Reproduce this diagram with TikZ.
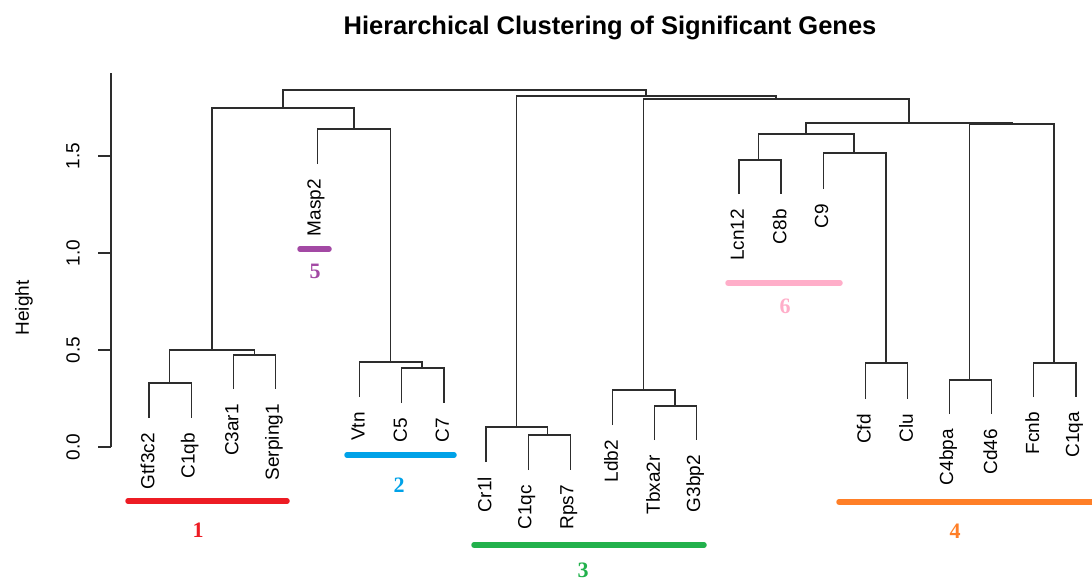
\documentclass[tikz,border=0pt]{standalone}
\usepackage{fontspec}
\setmainfont{Liberation Sans}
\newfontfamily\numfont{Liberation Serif}
\definecolor{cl1}{RGB}{237,28,36}
\definecolor{cl2}{RGB}{0,162,232}
\definecolor{cl3}{RGB}{34,177,76}
\definecolor{cl4}{RGB}{255,127,39}
\definecolor{cl5}{RGB}{163,73,164}
\definecolor{cl6}{RGB}{255,174,201}
\definecolor{treeline}{RGB}{45,45,45}
\tikzset{
  tree/.style={draw=treeline, line width=1.2pt},
  leaflab/.style={rotate=90, anchor=east, inner sep=0pt, font=\fontsize{19}{21}\selectfont},
  ticklab/.style={rotate=90, inner sep=0pt, font=\fontsize{19}{21}\selectfont},
  clbar/.style={line width=5.5pt, line cap=round},
  clnum/.style={inner sep=0pt, font=\numfont\bfseries\fontsize{22}{24}\selectfont}
}
\begin{document}
\begin{tikzpicture}[x=1pt,y=-1pt]
\useasboundingbox (0,0) rectangle (1092,581);

% title
\node[anchor=base, inner sep=0pt, font=\bfseries\fontsize{25.5}{28}\selectfont] (title) at (610,34) {Hierarchical Clustering of Significant Genes};

% height axis
\coordinate (ax0) at (111,447);
\coordinate (axtop) at (111,73);
\draw[tree] (ax0) -- (axtop);
\foreach \h/\t/\k in {0/0.0/a, 0.5/0.5/b, 1/1.0/c, 1.5/1.5/d} {
  \coordinate (tk\k) at (111,{447-194*\h});
  \coordinate (te\k) at (98,{447-194*\h});
  \draw[tree] (tk\k) -- (te\k);
  \node[ticklab] (tl\k) at (73,{447-194*\h}) {\t};
}
\node[ticklab] (ylab) at (24,308) {Height};

% leaves: name / position index / lower end of the hanging branch
\foreach \n/\i/\b in {Gtf3c2/0/418, C1qb/1/418, C3ar1/2/389, Serping1/3/389,
  Masp2/4/164, Vtn/5/397, C5/6/403, C7/7/403, Cr1l/8/462, C1qc/9/470, Rps7/10/470,
  Ldb2/11/425, Tbxa2r/12/440, G3bp2/13/440, Lcn12/14/194, C8b/15/194, C9/16/189,
  Cfd/17/399, Clu/18/399, C4bpa/19/414, Cd46/20/414, Fcnb/21/397, C1qa/22/397} {
  \coordinate (\n) at ({149+42.136*\i},\b);
  \node[leaflab] (lab-\n) at ({147.5+42.136*\i},\b+15) {\n};
}

% merge points
\coordinate (n1) at (169.6,383);
\coordinate (n2) at (254.3,355);
\coordinate (n3) at (212,350);
\coordinate (n4) at (422,368);
\coordinate (n5) at (390.5,362);
\coordinate (n6) at (354,129);
\coordinate (n7) at (283,108);
\coordinate (n8) at (547.5,435);
\coordinate (n9) at (516.5,427);
\coordinate (n10) at (675,406);
\coordinate (n11) at (643.5,390);
\coordinate (n12) at (758.5,160);
\coordinate (n13) at (886,363);
\coordinate (n14) at (854,153);
\coordinate (n15) at (806,134);
\coordinate (n16) at (969.5,380);
\coordinate (n17) at (1054,363);
\coordinate (n18) at (1012,124);
\coordinate (n19) at (909,123);
\coordinate (n20) at (776,99);
\coordinate (n21) at (646,96);
\coordinate (root) at (464.5,90);

% branches
\draw[tree] (Gtf3c2) |- (n1) -| (C1qb);
\draw[tree] (C3ar1) |- (n2) -| (Serping1);
\draw[tree] (n1) |- (n3) -| (n2);
\draw[tree] (C5) |- (n4) -| (C7);
\draw[tree] (Vtn) |- (n5) -| (n4);
\draw[tree] (Masp2) |- (n6) -| (n5);
\draw[tree] (n3) |- (n7) -| (n6);
\draw[tree] (C1qc) |- (n8) -| (Rps7);
\draw[tree] (Cr1l) |- (n9) -| (n8);
\draw[tree] (Tbxa2r) |- (n10) -| (G3bp2);
\draw[tree] (Ldb2) |- (n11) -| (n10);
\draw[tree] (Lcn12) |- (n12) -| (C8b);
\draw[tree] (Cfd) |- (n13) -| (Clu);
\draw[tree] (C9) |- (n14) -| (n13);
\draw[tree] (n12) |- (n15) -| (n14);
\draw[tree] (C4bpa) |- (n16) -| (Cd46);
\draw[tree] (Fcnb) |- (n17) -| (C1qa);
\draw[tree] (n16) |- (n18) -| (n17);
\draw[tree] (n15) |- (n19) -| (n18);
\draw[tree] (n11) |- (n20) -| (n19);
\draw[tree] (n9) |- (n21) -| (n20);
\draw[tree] (n7) |- (root) -| (n21);

% cluster markers
\coordinate (b1a) at (128,501);  \coordinate (b1b) at (287,501);
\coordinate (b2a) at (347,455);  \coordinate (b2b) at (454,455);
\coordinate (b3a) at (474,545);  \coordinate (b3b) at (704,545);
\coordinate (b4a) at (839,502);  \coordinate (b4b) at (1096,502);
\coordinate (b5a) at (300,249);  \coordinate (b5b) at (329,249);
\coordinate (b6a) at (728,283);  \coordinate (b6b) at (840,283);
\draw[clbar, cl1] (b1a) -- (b1b);
\draw[clbar, cl2] (b2a) -- (b2b);
\draw[clbar, cl3] (b3a) -- (b3b);
\draw[clbar, cl4] (b4a) -- (b4b);
\draw[clbar, cl5] (b5a) -- (b5b);
\draw[clbar, cl6] (b6a) -- (b6b);
\node[clnum, text=cl1] (c1) at (198,530) {1};
\node[clnum, text=cl2] (c2) at (399,485) {2};
\node[clnum, text=cl3] (c3) at (583,570) {3};
\node[clnum, text=cl4] (c4) at (955,531) {4};
\node[clnum, text=cl5] (c5) at (315,271) {5};
\node[clnum, text=cl6] (c6) at (785,306) {6};
\end{tikzpicture}
\end{document}
